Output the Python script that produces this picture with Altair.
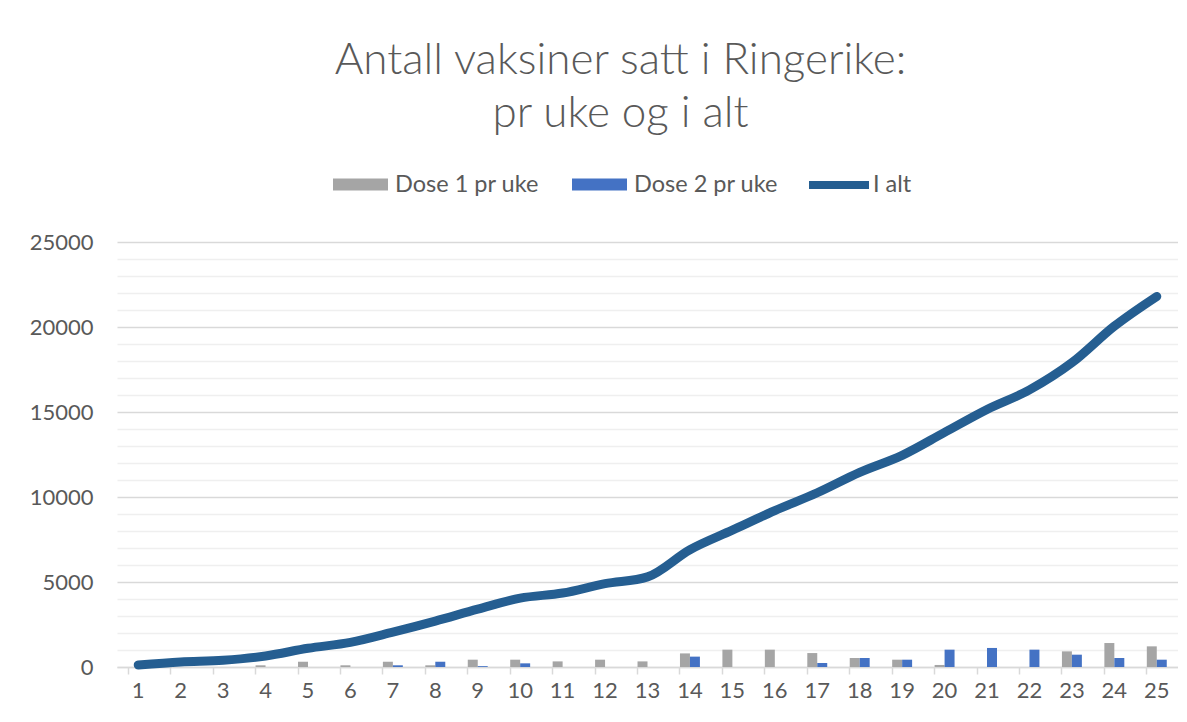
import altair as alt
import pandas as pd

weeks = list(range(1, 26))
dose1 = [0, 0, 0, 100, 310, 100, 310, 100, 430, 430, 330, 430, 330, 800, 1020, 1020,
         820, 530, 430, 120, 0, 0, 920, 1410, 1215]
dose2 = [0, 0, 0, 0, 0, 0, 100, 310, 50, 215, 0, 0, 0, 610, 0, 0,
         235, 530, 430, 1020, 1120, 1020, 725, 530, 430]
total = [120, 300, 400, 650, 1100, 1450, 2050, 2700, 3400, 4050, 4350, 4900, 5300, 6900,
         8050, 9200, 10250, 11450, 12450, 13800, 15150, 16300, 17900, 20050, 21800]

series_names = ["Dose 1 pr uke", "Dose 2 pr uke"]
line_name = "I alt"

bars = pd.DataFrame(
    [{"uke": w, "serie": series_names[0], "verdi": v} for w, v in zip(weeks, dose1)]
    + [{"uke": w, "serie": series_names[1], "verdi": v} for w, v in zip(weeks, dose2)]
)
line = pd.DataFrame({"uke": weeks, "serie": [line_name] * len(weeks), "verdi": total})

FONT = "Lato"
GREY = "#595959"

x_enc = alt.X(
    "uke:O",
    title=None,
    scale=alt.Scale(paddingInner=0.53, paddingOuter=0.265),
    axis=alt.Axis(
        labelAngle=0, labelFont=FONT, labelFontSize=22, labelColor=GREY,
        domainColor="#d9d9d9", domainWidth=1.5, tickColor="#d9d9d9", tickSize=7,
        tickWidth=1.5, bandPosition=0, labelPadding=6, grid=False,
    ),
)

y_enc = alt.Y(
    "verdi:Q",
    title=None,
    scale=alt.Scale(domain=[0, 25000], nice=False),
    axis=alt.Axis(
        values=list(range(0, 25001, 1000)),
        tickCount=30,
        labelExpr="datum.value % 5000 === 0 ? format(datum.value, 'd') : ''",
        labelFont=FONT, labelFontSize=22, labelColor=GREY, labelPadding=24,
        domain=False, ticks=False,
        gridColor=alt.condition("datum.value % 5000 === 0", alt.value("#d9d9d9"), alt.value("#efefef")),
        gridWidth=1.5,
    ),
)

bar_layer = alt.Chart(bars).mark_bar().encode(
    x=x_enc,
    xOffset=alt.XOffset("serie:N", sort=series_names),
    y=y_enc,
    color=alt.Color(
        "serie:N",
        scale=alt.Scale(domain=series_names, range=["#A5A5A5", "#4472C4"]),
        legend=alt.Legend(
            title=None, orient="none", direction="horizontal", legendX=216, legendY=-85,
            symbolType="M-1,-0.22H1V0.22H-1Z", symbolSize=3025, symbolStrokeWidth=0,
            labelFont=FONT, labelFontSize=23.5, labelColor=GREY, labelOffset=7,
            columnPadding=33, padding=0,
        ),
    ),
)

line_layer = alt.Chart(line).mark_line(strokeWidth=9, strokeCap="round", strokeJoin="round",
                                       interpolate="monotone").encode(
    x=alt.X("uke:O", bandPosition=0.5),
    y=alt.Y("verdi:Q"),
    color=alt.Color(
        "serie:N",
        scale=alt.Scale(domain=[line_name], range=["#255E91"]),
        legend=alt.Legend(
            title=None, orient="none", direction="horizontal", legendX=688, legendY=-91,
            symbolType="stroke", symbolSize=3600, symbolStrokeWidth=8,
            labelFont=FONT, labelFontSize=23.5, labelColor=GREY, labelOffset=0, padding=0,
        ),
    ),
)

chart = (
    alt.layer(bar_layer, line_layer)
    .resolve_scale(color="independent")
    .resolve_legend(color="independent")
    .properties(
        width=1061,
        height=425,
        autosize=alt.AutoSizeParams(type="none"),
        padding={"left": 109, "top": 234, "right": 0, "bottom": 50},
        background="white",
        title=alt.TitleParams(
            text=["Antall vaksiner satt i Ringerike:", "pr uke og i alt"],
            font=FONT, fontSize=44, fontWeight=300, color=GREY, lineHeight=53,
            anchor="middle", frame="group", dx=-27, offset=-29, baseline="bottom",
        ),
    )
    .configure_view(stroke=None)
)

chart.save("out.html", embed_options={"renderer": "svg", "actions": False})
